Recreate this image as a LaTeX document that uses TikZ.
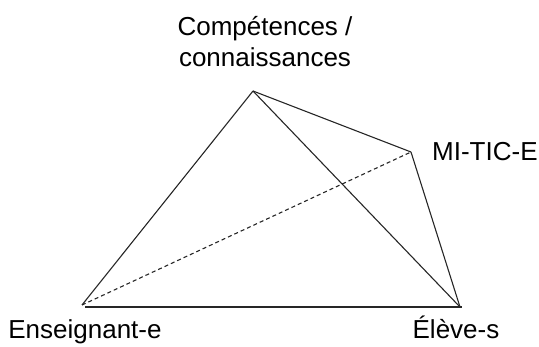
\documentclass[tikz,border=0pt]{standalone}
\usepackage{fontspec}
\setmainfont{Liberation Sans}
\usetikzlibrary{positioning}

\tikzset{
  pole/.style={font=\fontsize{26}{31}\selectfont, inner sep=0pt, align=center},
  side/.style={line width=1.1pt, black!85},
}

\begin{document}
\begin{tikzpicture}[x=1pt, y=1pt]
  \useasboundingbox (0,0) rectangle (539,346);

  % sommets du tetraedre
  \coordinate (savoir) at (253,255);
  \coordinate (mitic)  at (411,194);
  \coordinate (ens)    at (82,41);
  \coordinate (eleve)  at (460,39);

  \node[pole] (lsavoir) at (265,304) {Compétences /\\connaissances};
  \node[pole, anchor=west] (lmitic) at (432,194) {MI-TIC-E};
  \node[pole, anchor=base] (lens)   at (85,8) {Enseignant-e};
  \node[pole, anchor=base] (leleve) at (456,8) {Élève-s};

  \foreach \a/\b in {savoir/ens, savoir/eleve, savoir/mitic, mitic/eleve}{
    \draw[side] (\a) -- (\b);
  }
  \draw[side, line width=1.6pt] ([shift={(3,-2)}]ens) -- ([shift={(2,0)}]eleve);
  \draw[side, dash pattern=on 4pt off 3pt] (ens) -- (mitic);
\end{tikzpicture}
\end{document}
